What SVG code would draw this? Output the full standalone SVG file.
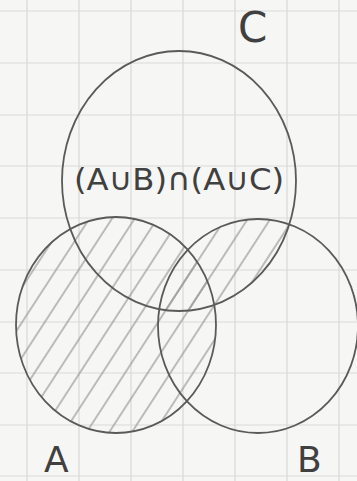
<svg xmlns="http://www.w3.org/2000/svg" width="357" height="481" viewBox="0 0 357 481">
<style>
.grid line{stroke:#d9d9d9;stroke-width:1.2}
.set{fill:none;stroke:#5a5a5a;stroke-width:1.8}
.lbl{font-family:"DejaVu Sans",sans-serif;fill:#404040;font-weight:normal}
.hatch{fill:url(#h);stroke:none}
</style>
<defs>
<pattern id="h" patternUnits="userSpaceOnUse" width="19" height="19" patternTransform="rotate(33)">
<line x1="4" y1="0" x2="4" y2="19" stroke="#949494" stroke-width="1.2"/>
</pattern>
<clipPath id="clipB"><ellipse cx="258" cy="326" rx="100" ry="107"/></clipPath>
</defs>
<rect width="357" height="481" fill="#f6f6f4"/>
<g class="grid">
<line x1="27" y1="0" x2="27" y2="481"/><line x1="79" y1="0" x2="79" y2="481"/><line x1="131" y1="0" x2="131" y2="481"/><line x1="183" y1="0" x2="183" y2="481"/><line x1="235" y1="0" x2="235" y2="481"/><line x1="287" y1="0" x2="287" y2="481"/><line x1="339" y1="0" x2="339" y2="481"/>
<line x1="0" y1="11" x2="357" y2="11"/><line x1="0" y1="63" x2="357" y2="63"/><line x1="0" y1="115" x2="357" y2="115"/><line x1="0" y1="166" x2="357" y2="166"/><line x1="0" y1="218" x2="357" y2="218"/><line x1="0" y1="270" x2="357" y2="270"/><line x1="0" y1="322" x2="357" y2="322"/><line x1="0" y1="373" x2="357" y2="373"/><line x1="0" y1="425" x2="357" y2="425"/><line x1="0" y1="476" x2="357" y2="476"/>
</g>
<g id="shading">
<ellipse class="hatch" cx="116" cy="325" rx="100" ry="108"/>
<g clip-path="url(#clipB)"><ellipse class="hatch" cx="179" cy="181" rx="117" ry="130"/></g>
</g>
<g id="set-C">
<ellipse class="set" cx="179" cy="181" rx="117" ry="130"/>
<text class="lbl" x="238" y="42" font-size="42">C</text>
</g>
<g id="set-A">
<ellipse class="set" cx="116" cy="325" rx="100" ry="108"/>
<text class="lbl" x="44" y="472" font-size="36">A</text>
</g>
<g id="set-B">
<ellipse class="set" cx="258" cy="326" rx="100" ry="107"/>
<text class="lbl" x="297" y="472" font-size="36">B</text>
</g>
<g id="expr">
<text class="lbl" x="74" y="190" font-size="31" textLength="210" lengthAdjust="spacingAndGlyphs">(A∪B)∩(A∪C)</text>
</g>
<g id="connectors"/>
</svg>
